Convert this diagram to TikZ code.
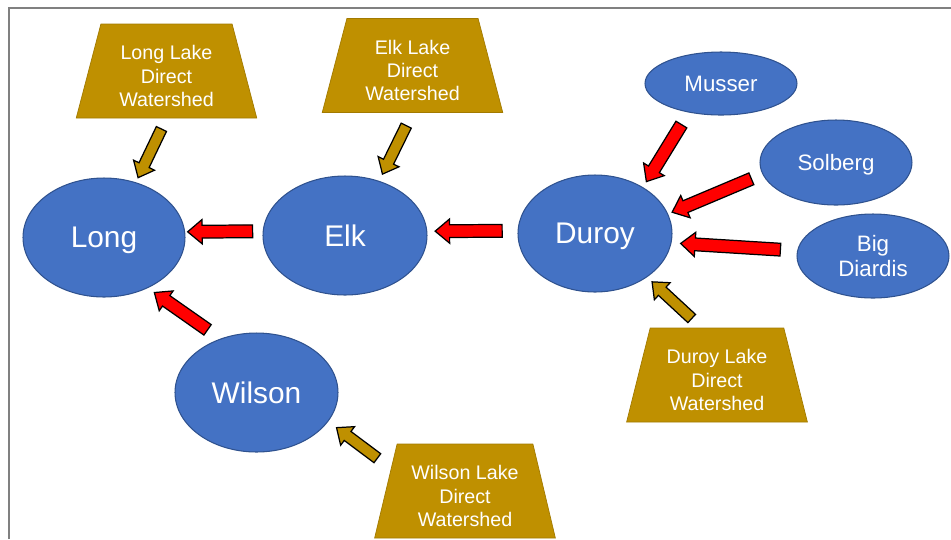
\documentclass[tikz,border=0pt]{standalone}
\usepackage{fontspec}
\setmainfont{Liberation Sans}
\usetikzlibrary{
	shapes.geometric,
	shapes.arrows
}
\definecolor{lakecolor}{HTML}{4472C4}
\definecolor{lakeedge}{HTML}{2F528F}
\definecolor{shedcolor}{HTML}{BF9000}
\definecolor{flowcolor}{HTML}{FF0000}
\definecolor{framecolor}{HTML}{808080}
\tikzset{
	lakenode/.style={
		ellipse,
		draw=lakeedge,
		fill=lakecolor,
		line width=0.6pt,
		inner sep=0pt,
		text=white,
		text depth=0pt,
		align=center,
		font=\fontsize{17}{20}\selectfont
	},
	smalllake/.style={
		lakenode,
		minimum width=3.04cm,
		font=\fontsize{12.7}{14.2}\selectfont
	},
	shednode/.style={
		trapezium,
		trapezium left angle=76,
		trapezium right angle=76,
		trapezium stretches=true,
		fill=shedcolor,
		draw=shedcolor!85!black,
		line width=0.4pt,
		minimum width=3.62cm,
		minimum height=1.88cm,
		inner sep=0pt,
		text=white,
		align=center,
		font=\fontsize{11.2}{13.3}\selectfont
	},
	flowarrow/.style={
		single arrow,
		draw=black,
		fill=flowcolor,
		line width=0.7pt,
		inner xsep=0pt,
		inner ysep=0.115cm,
		single arrow head extend=0.115cm,
		single arrow tip angle=80,
		sloped,
		allow upside down,
		midway
	},
	shedarrow/.style={
		flowarrow,
		fill=shedcolor,
		inner ysep=0.1cm,
		single arrow head extend=0.12cm
	}
}
% extra room above the first line of a watershed label
\newcommand{\shedtop}{\rule{0pt}{13.8pt}}

\begin{document}
\begin{tikzpicture}[x=0.02cm, y=-0.02cm]
	\useasboundingbox (0,0) rectangle (951,539);
	
	% Frame
	\draw[framecolor, line width=1.1pt] (9,539) -- (9,8) -- (951,8);
	
	% Nodes
	% Lakes
	\node[lakenode, minimum width=3.24cm, minimum height=2.38cm] (Long) at (104,237.5) {Long};
	\node[lakenode, minimum width=3.28cm, minimum height=2.38cm] (Elk) at (345,235.5) {Elk};
	\node[lakenode, minimum width=3.08cm, minimum height=2.34cm] (Duroy) at (595,233.5) {Duroy};
	\node[lakenode, minimum width=3.26cm, minimum height=2.38cm] (Wilson) at (256.5,392.5) {Wilson};
	
	% Upstream lakes
	\node[smalllake, minimum height=1.26cm] (Musser) at (721,83.5) {Musser};
	\node[smalllake, minimum height=1.70cm] (Solberg) at (836,162.5) {Solberg};
	\node[smalllake, minimum height=1.68cm] (BigDiardis) at (873,256) {Big\\Diardis};
	
	% Direct watersheds
	\node[shednode] (LongWS) at (166.5,71) {\shedtop Long Lake\\Direct\\Watershed};
	\node[shednode] (ElkWS) at (412.5,65.5) {\shedtop Elk Lake\\Direct\\Watershed};
	\node[shednode] (DuroyWS) at (717,375) {\shedtop Duroy Lake\\Direct\\Watershed};
	\node[shednode] (WilsonWS) at (465,491) {\shedtop Wilson Lake\\Direct\\Watershed};
	
	% Arrows
	% Watersheds to lakes
	\path (LongWS.south) -- node[shedarrow, minimum height=1.08cm] {} (Long.60);
	\path (ElkWS.south) -- node[shedarrow, minimum height=1.08cm] {} (Elk.58);
	\path (DuroyWS.108) -- node[shedarrow, minimum height=1.08cm] {} (Duroy.320);
	\path (WilsonWS.163) -- node[shedarrow, minimum height=1.02cm] {} (Wilson.338);
	
	% Lake to lake
	\path (Elk.177) -- node[flowarrow, minimum height=1.30cm] {} (Long.4);
	\path (Duroy.178) -- node[flowarrow, minimum height=1.34cm] {} (Elk.3);
	\path (Wilson.124) -- node[flowarrow, minimum height=1.30cm] {} (Long.311);
	
	% Upstream lakes to Duroy
	\path (Musser.222) -- node[flowarrow, minimum height=1.34cm] {} (Duroy.44);
	\path (Solberg.189) -- node[flowarrow, minimum height=1.72cm] {} (Duroy.15);
	\path (BigDiardis.176) -- node[flowarrow, minimum height=2.0cm] {} (Duroy.353);
	
\end{tikzpicture}
\end{document}
